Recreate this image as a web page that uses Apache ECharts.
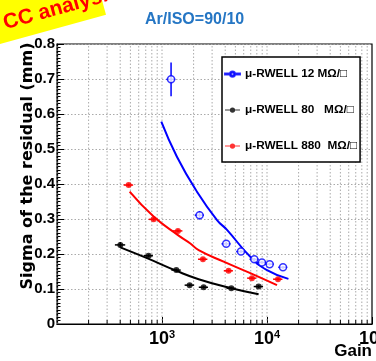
<!DOCTYPE html>
<html><head><meta charset="utf-8">
<script src="https://cdn.jsdelivr.net/npm/echarts@6/dist/echarts.min.js"></script>
<style>html,body{margin:0;padding:0;background:#fff}#c{width:376px;height:361px}</style>
</head><body><div id="c"></div>
<script>
// ---- data ----
var legendNames = ['\u03bc-RWELL 12 M\u03a9/\u25a1', '\u03bc-RWELL 80   M\u03a9/\u25a1', '\u03bc-RWELL 880  M\u03a9/\u25a1'];

var blueGain     = [1220, 2280, 4090, 5650, 7570, 8950, 10600, 14200];
var blueSigma    = [0.699, 0.311, 0.229, 0.207, 0.185, 0.176, 0.171, 0.162];
var blueGainErr  = [120, 230, 400, 560, 750, 900, 1000, 1400];
var blueSigmaErr = [0.048, 0.012, 0.006, 0.005, 0.004, 0.004, 0.004, 0.004];

var blackGain     = [401, 745, 1368, 1833, 2490, 4570, 8320];
var blackSigma    = [0.226, 0.195, 0.154, 0.111, 0.105, 0.102, 0.107];
var blackGainErr  = [45, 75, 140, 190, 250, 460, 850];
var blackSigmaErr = [0.008, 0.004, 0.004, 0.004, 0.004, 0.004, 0.004];

var redGain     = [481, 832, 1419, 2455, 4306, 7190, 12730];
var redSigma    = [0.397, 0.299, 0.266, 0.185, 0.152, 0.131, 0.128];
var redGainErr  = [50, 85, 145, 250, 430, 720, 1300];
var redSigmaErr = [0.004, 0.004, 0.004, 0.004, 0.004, 0.004, 0.004];

// fitted curves
var blueFitGain  = [985, 1387, 2153, 3342, 4160, 6930, 10000, 16000];
var blueFitSigma = [0.578, 0.478, 0.378, 0.297, 0.269, 0.192, 0.154, 0.129];
var blackFitGain  = [401, 720, 1368, 2234, 4570, 8320];
var blackFitSigma = [0.219, 0.188, 0.152, 0.128, 0.102, 0.085];
var redFitGain  = [492, 832, 1419, 1862, 2234, 3864, 8035, 12450];
var redFitSigma = [0.378, 0.307, 0.254, 0.230, 0.211, 0.178, 0.137, 0.111];

var yTicks = [0, 0.1, 0.2, 0.3, 0.4, 0.5, 0.6, 0.7, 0.8];
var xDecades = [100, 1000, 10000, 100000];

// ---- build ----
function zip(a, b) { return a.map(function (v, i) { return [v, b[i]]; }); }
function zip4(a, b, c, d) { return a.map(function (v, i) { return [v, b[i], c[i], d[i]]; }); }

var gridGains = [];
for (var d = 0; d < xDecades.length - 1; d++) {
  for (var k = 1; k <= 9; k++) gridGains.push([xDecades[d] * k, k === 1 ? 1 : 0]);
}

var BLUE = '#0000ff', RED = '#ff0000', BLACK = '#000000';

function errRender(color) {
  return function (params, api) {
    var g = api.value(0), s = api.value(1), ge = api.value(2), se = api.value(3);
    var l = api.coord([g - ge, s]), r = api.coord([g + ge, s]);
    var t = api.coord([g, s + se]), b = api.coord([g, s - se]);
    var st = { stroke: color, lineWidth: 1.5 };
    return { type: 'group', children: [
      { type: 'line', shape: { x1: l[0], y1: l[1], x2: r[0], y2: r[1] }, style: st },
      { type: 'line', shape: { x1: t[0], y1: t[1], x2: b[0], y2: b[1] }, style: st }
    ]};
  };
}

var chart = echarts.init(document.getElementById('c'), null, { renderer: 'canvas' });
var FONT = '"Liberation Sans", Arial, sans-serif';
var NARROW = '"Liberation Sans Narrow", "Liberation Sans", Arial, sans-serif';

var lineIcon = 'path://M0,4.3h20v1.4h-20z M10,1.5a3.5,3.5 0 1,1 -0.01,0z';
var ringIcon = 'path://M0,4.3h6.6v1.4h-6.6z M13.4,4.3h6.6v1.4h-6.6z M6.5,5a3.5,3.5 0 1,1 7,0a3.5,3.5 0 1,1 -7,0z M7.9,5a2.1,2.1 0 1,0 4.2,0a2.1,2.1 0 1,0 -4.2,0z';

chart.setOption({
  animation: false,
  backgroundColor: '#fff',
  grid: { left: 57, right: 4, top: 44, bottom: 37, outerBoundsMode: 'none', containLabel: false, show: true, borderColor: '#000', borderWidth: 1.2, backgroundColor: 'transparent' },
  title: {
    text: 'Ar/ISO=90/10', left: 140, top: 7,
    textStyle: { color: '#2576c4', fontSize: 16, fontWeight: 'bold', fontFamily: FONT }
  },
  legend: {
    orient: 'vertical', left: 222, top: 57, itemGap: 24,
    itemWidth: 15, itemHeight: 7,
    padding: [11, 3, 10, 2],
    backgroundColor: '#fff', borderColor: '#000', borderWidth: 1.5,
    textStyle: { fontSize: 11.8, fontWeight: 'bold', fontFamily: FONT, color: '#000' },
    data: [
      { name: legendNames[0], icon: ringIcon, itemStyle: { color: BLUE } },
      { name: legendNames[1], icon: lineIcon, itemStyle: { color: BLACK } },
      { name: legendNames[2], icon: lineIcon, itemStyle: { color: RED } }
    ]
  },
  xAxis: {
    type: 'log', logBase: 10, min: 100, max: 100000,
    axisLine: { onZero: false, lineStyle: { color: '#000', width: 1.2 } },
    axisTick: { inside: true, length: 7, lineStyle: { color: '#000', width: 1 } },
    splitLine: { show: false },
    axisLabel: {
      margin: 5, color: '#000', alignMaxLabel: 'center', hideOverlap: false,
      formatter: function (v) {
        var e = Math.round(Math.log10(v));
        if (e === 2) return '';
        return '{b|10}{s|' + e + '}';
      },
      rich: {
        b: { fontSize: 18, fontWeight: 'bold', fontFamily: NARROW, color: '#000' },
        s: { fontSize: 11, fontWeight: 'bold', fontFamily: NARROW, color: '#000', padding: [0, 0, 9, 0] }
      }
    }
  },
  yAxis: {
    type: 'value', min: 0, max: 0.8, interval: 0.1,
    name: 'Sigma of the residual (mm)', nameLocation: 'middle', nameGap: 21, nameRotate: 90, nameMoveOverlap: false,
    nameTextStyle: { fontSize: 16, fontWeight: 'bold', fontFamily: '"DejaVu Sans", sans-serif', color: '#000', padding: [0, 0, 0, 36] },
    axisLine: { show: true, lineStyle: { color: '#000', width: 1.2 } },
    axisTick: { show: true, inside: true, length: 7, lineStyle: { color: '#000' } },
    minorTick: { show: true, splitNumber: 10, length: 3.5, lineStyle: { color: '#000' } },
    splitLine: { show: true, lineStyle: { color: '#aaa', type: [1.5, 2], width: 1 } },
    axisLabel: {
      margin: 2, color: '#000', fontSize: 15, fontWeight: 'bold', fontFamily: FONT,
      formatter: function (v) { return v === 0 ? '0' : v.toFixed(1); }
    }
  },
  graphic: [
    {
      type: 'group', x: 0, y: 44, rotation: 0.27, z: 100,
      children: [
        { type: 'rect', shape: { x: -20, y: -70, width: 130, height: 70 }, style: { fill: '#ffff00' } },
        { type: 'text', x: 9, y: -8, style: { text: 'CC analysis', fill: '#ff0000', font: 'bold 21px "Liberation Sans", Arial, sans-serif', textVerticalAlign: 'bottom' } }
      ]
    },
    {
      type: 'text', right: 4, top: 343, z: 100,
      style: { text: 'Gain', fill: '#000', font: 'bold 17px "Liberation Sans Narrow", "Liberation Sans", Arial, sans-serif' }
    }
  ],
  series: [
    {
      type: 'custom', silent: true, z: 1, data: gridGains,
      renderItem: function (params, api) {
        var g = api.value(0), major = api.value(1);
        var b = api.coord([g, 0]), t = api.coord([g, 0.8]);
        var ch = [{ type: 'line', shape: { x1: b[0], y1: b[1], x2: t[0], y2: t[1] }, style: { stroke: '#aaa', lineWidth: 1, lineDash: [1.5, 2] } }];
        if (!major) ch.push({ type: 'line', shape: { x1: b[0], y1: b[1], x2: b[0], y2: b[1] - 4 }, style: { stroke: '#000', lineWidth: 1 } });
        return { type: 'group', children: ch };
      }
    },
    { type: 'line', name: 'fit12', data: zip(blueFitGain, blueFitSigma), smooth: true, showSymbol: false, lineStyle: { color: BLUE, width: 2 }, z: 3 },
    { type: 'line', name: 'fit80', data: zip(blackFitGain, blackFitSigma), smooth: true, showSymbol: false, lineStyle: { color: BLACK, width: 2 }, z: 3 },
    { type: 'line', name: 'fit880', data: zip(redFitGain, redFitSigma), smooth: true, showSymbol: false, lineStyle: { color: RED, width: 2 }, z: 3 },
    { type: 'custom', silent: true, z: 4, data: zip4(blueGain, blueSigma, blueGainErr, blueSigmaErr), renderItem: errRender(BLUE) },
    { type: 'custom', silent: true, z: 4, data: zip4(blackGain, blackSigma, blackGainErr, blackSigmaErr), renderItem: errRender(BLACK) },
    { type: 'custom', silent: true, z: 4, data: zip4(redGain, redSigma, redGainErr, redSigmaErr), renderItem: errRender(RED) },
    { type: 'scatter', name: legendNames[0], data: zip(blueGain, blueSigma), symbol: 'circle', symbolSize: 7, itemStyle: { color: '#fff', borderColor: BLUE, borderWidth: 1.5 }, z: 5 },
    { type: 'scatter', name: legendNames[1], data: zip(blackGain, blackSigma), symbol: 'circle', symbolSize: 6, itemStyle: { color: BLACK }, z: 5 },
    { type: 'scatter', name: legendNames[2], data: zip(redGain, redSigma), symbol: 'circle', symbolSize: 6, itemStyle: { color: RED }, z: 5 }
  ]
});
</script>
</body></html>
